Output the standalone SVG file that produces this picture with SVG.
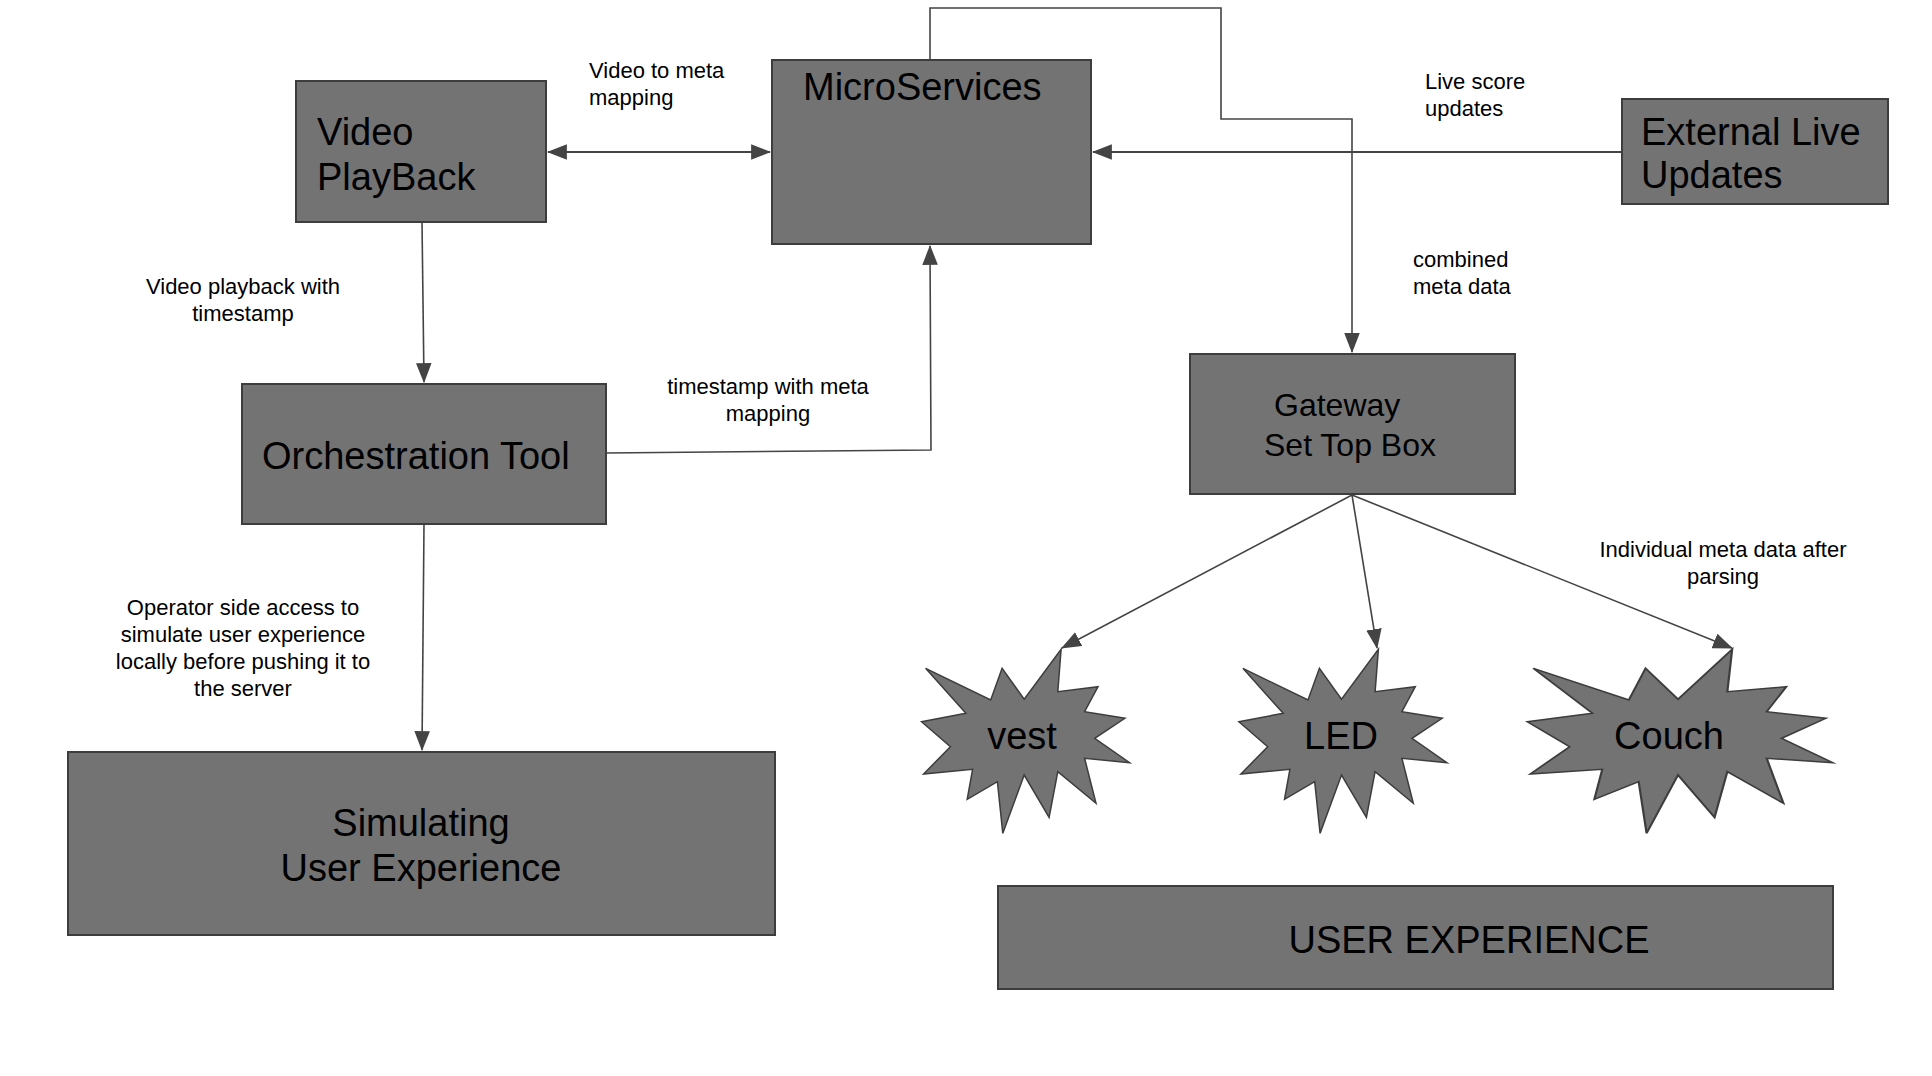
<svg xmlns="http://www.w3.org/2000/svg" xmlns:xlink="http://www.w3.org/1999/xlink" width="1932" height="1076" viewBox="0 0 1932 1076">
<style>
.box{fill:#737373;stroke:#3d3d3d;stroke-width:2}
.star{fill:#737373;stroke:#3d3d3d;stroke-width:1.5}
.big{font-family:"Liberation Sans",Arial,sans-serif;font-size:38px;fill:#000}
.mid{font-family:"Liberation Sans",Arial,sans-serif;font-size:32px;fill:#000}
.lbl{font-family:"Liberation Sans",Arial,sans-serif;font-size:22px;fill:#000}
.c{text-anchor:middle}
.ln{fill:none;stroke:#444;stroke-width:1.6}
.ln2{fill:none;stroke:#444;stroke-width:2.2}
</style>
<defs>
<marker id="arr" markerUnits="userSpaceOnUse" markerWidth="20" markerHeight="16" viewBox="0 0 18 14" refX="17" refY="7" orient="auto-start-reverse">
<path d="M0,0 L18,7 L0,14 z" fill="#444"/>
</marker>
<polygon id="starShape" points="1061.1,649.3 1057.8,691.7 1098,686.7 1084.6,711.7 1124.9,718.3 1094.7,738.3 1129.6,762.7 1084.6,758.3 1096,803.3 1057.8,771.7 1049.1,817.3 1024.2,775 1002.8,833.3 997.4,781.7 967.2,799.3 972.6,769.3 923.6,774 950.4,746.7 921.6,721.7 965.9,713.3 925.6,668.3 990.7,700 1002.1,668.3 1024.2,699.3"/>
</defs>
<rect width="1932" height="1076" fill="#fff"/>

<g id="connectors">
<path class="ln2" d="M548,152 H770" marker-start="url(#arr)" marker-end="url(#arr)"/>
<path class="ln2" d="M1622,152 H1093" marker-end="url(#arr)"/>
<path class="ln" d="M930,60 V8 H1221 V119 H1352 V352" marker-end="url(#arr)"/>
<path class="ln" d="M422,222 L424,382" marker-end="url(#arr)"/>
<path class="ln" d="M606,453 L931,450 L930,246" marker-end="url(#arr)"/>
<path class="ln" d="M424,524 L422,750" marker-end="url(#arr)"/>
<path class="ln" d="M1352,495 L1062,648" marker-end="url(#arr)"/>
<path class="ln" d="M1352,495 L1377,648" marker-end="url(#arr)"/>
<path class="ln" d="M1352,495 L1732,648" marker-end="url(#arr)"/>
<text class="lbl" x="589" y="78">Video to meta</text>
<text class="lbl" x="589" y="105">mapping</text>
<text class="lbl" x="1425" y="89">Live score</text>
<text class="lbl" x="1425" y="116">updates</text>
<text class="lbl" x="1413" y="267">combined</text>
<text class="lbl" x="1413" y="294">meta data</text>
<text class="lbl c" x="243" y="294">Video playback with</text>
<text class="lbl c" x="243" y="321">timestamp</text>
<text class="lbl c" x="768" y="394">timestamp with meta</text>
<text class="lbl c" x="768" y="421">mapping</text>
<text class="lbl c" x="1723" y="557">Individual meta data after</text>
<text class="lbl c" x="1723" y="584">parsing</text>
<text class="lbl c" x="243" y="615">Operator side access to</text>
<text class="lbl c" x="243" y="642">simulate user experience</text>
<text class="lbl c" x="243" y="669">locally before pushing it to</text>
<text class="lbl c" x="243" y="696">the server</text>
</g>

<g id="video-playback">
<rect class="box" x="296" y="81" width="250" height="141"/>
<text class="big" x="317" y="145">Video</text>
<text class="big" x="317" y="190">PlayBack</text>
</g>

<g id="microservices">
<rect class="box" x="772" y="60" width="319" height="184"/>
<text class="big" x="803" y="100">MicroServices</text>
</g>

<g id="external-live-updates">
<rect class="box" x="1622" y="99" width="266" height="105"/>
<text class="big" x="1641" y="145">External Live</text>
<text class="big" x="1641" y="188">Updates</text>
</g>

<g id="orchestration-tool">
<rect class="box" x="242" y="384" width="364" height="140"/>
<text class="big" x="262" y="469">Orchestration Tool</text>
</g>

<g id="gateway">
<rect class="box" x="1190" y="354" width="325" height="140"/>
<text class="mid" x="1274" y="416">Gateway</text>
<text class="mid" x="1264" y="456">Set Top Box</text>
</g>

<g id="simulating-user-experience">
<rect class="box" x="68" y="752" width="707" height="183"/>
<text class="big c" x="421" y="836">Simulating</text>
<text class="big c" x="421" y="881">User Experience</text>
</g>

<g id="vest">
<use xlink:href="#starShape" class="star"/>
<text class="big c" x="1022" y="749">vest</text>
</g>

<g id="led">
<use xlink:href="#starShape" class="star" transform="translate(317.3,0)"/>
<text class="big c" x="1341" y="749">LED</text>
</g>

<g id="couch">
<use xlink:href="#starShape" class="star" transform="translate(1527.4,0) scale(1.468,1) translate(-921.6,0)" vector-effect="non-scaling-stroke"/>
<text class="big c" x="1669" y="749">Couch</text>
</g>

<g id="user-experience">
<rect class="box" x="998" y="886" width="835" height="103"/>
<text class="big c" x="1469" y="953">USER EXPERIENCE</text>
</g>
</svg>
